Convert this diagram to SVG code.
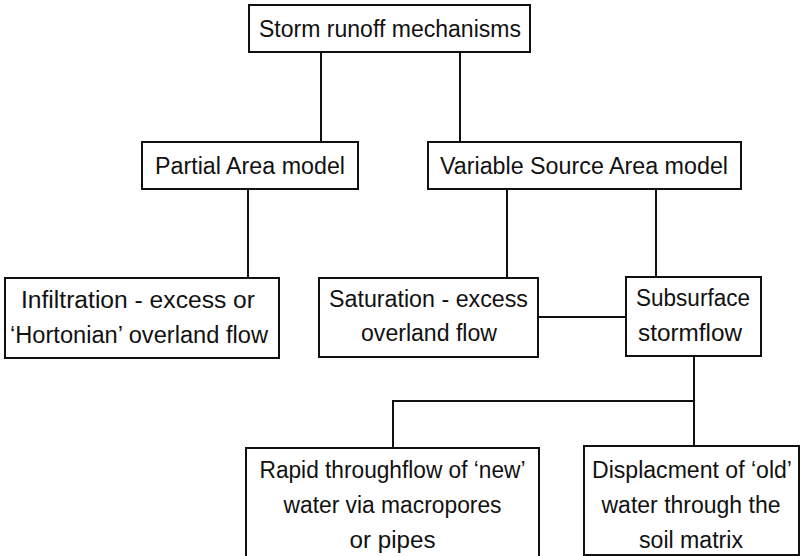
<svg xmlns="http://www.w3.org/2000/svg" width="800" height="556" viewBox="0 0 800 556">
<style>
.box{fill:#fff;stroke:#111;stroke-width:2}
.conn line{stroke:#111;stroke-width:2}
text{font-family:"Liberation Sans",Arial,sans-serif;font-size:23px;fill:#111;text-anchor:middle}
</style>
<rect width="800" height="556" fill="#fff"/>
<g class="conn" id="connectors">
<line x1="321" y1="52" x2="321" y2="142"/>
<line x1="460" y1="52" x2="460" y2="142"/>
<line x1="248" y1="189" x2="248" y2="278"/>
<line x1="507" y1="189" x2="507" y2="278"/>
<line x1="656" y1="189" x2="656" y2="277"/>
<line x1="538" y1="317" x2="626" y2="317"/>
<line x1="694" y1="356" x2="694" y2="446"/>
<line x1="392" y1="401" x2="695" y2="401"/>
<line x1="393" y1="401" x2="393" y2="448"/>
</g>
<g id="storm"><rect class="box" x="249" y="5" width="281" height="47"/><text x="390" y="37" textLength="262" lengthAdjust="spacingAndGlyphs">Storm runoff mechanisms</text></g>
<g id="partial"><rect class="box" x="142" y="142" width="216" height="47"/><text x="250" y="174" textLength="190" lengthAdjust="spacingAndGlyphs">Partial Area model</text></g>
<g id="vsa"><rect class="box" x="428" y="142" width="313" height="47"/><text x="584" y="174" textLength="288" lengthAdjust="spacingAndGlyphs">Variable Source Area model</text></g>
<g id="infiltration"><rect class="box" x="5" y="278" width="274" height="80"/><text x="138" y="308" textLength="234" lengthAdjust="spacingAndGlyphs">Infiltration - excess or</text><text x="139" y="343" textLength="258" lengthAdjust="spacingAndGlyphs">‘Hortonian’ overland flow</text></g>
<g id="saturation"><rect class="box" x="319" y="278" width="219" height="79"/><text x="428.5" y="307" textLength="199" lengthAdjust="spacingAndGlyphs">Saturation - excess</text><text x="429" y="341" textLength="136" lengthAdjust="spacingAndGlyphs">overland flow</text></g>
<g id="subsurface"><rect class="box" x="626" y="277" width="135" height="79"/><text x="693" y="306" textLength="114" lengthAdjust="spacingAndGlyphs">Subsurface</text><text x="690" y="341" textLength="104" lengthAdjust="spacingAndGlyphs">stormflow</text></g>
<g id="rapid"><rect class="box" x="246" y="448" width="293" height="112"/><text x="392.5" y="478" textLength="266" lengthAdjust="spacingAndGlyphs">Rapid throughflow of ‘new’</text><text x="392.5" y="513" textLength="218" lengthAdjust="spacingAndGlyphs">water via macropores</text><text x="392.5" y="548" textLength="86" lengthAdjust="spacingAndGlyphs">or pipes</text></g>
<g id="displacement"><rect class="box" x="584" y="446" width="215" height="109"/><text x="692" y="478" textLength="200" lengthAdjust="spacingAndGlyphs">Displacment of ‘old’</text><text x="691" y="513" textLength="179" lengthAdjust="spacingAndGlyphs">water through the</text><text x="691" y="548" textLength="104" lengthAdjust="spacingAndGlyphs">soil matrix</text></g>
</svg>
